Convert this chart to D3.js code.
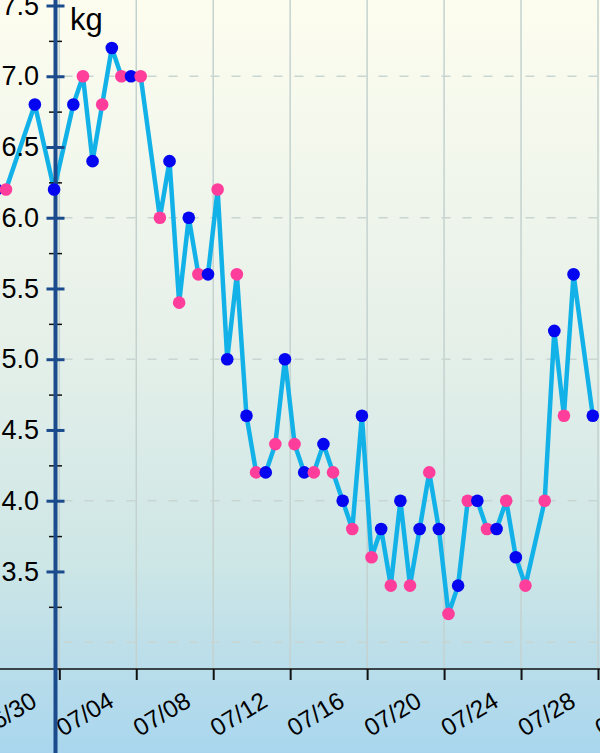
<!DOCTYPE html>
<html>
<head>
<meta charset="utf-8">
<script src="https://cdn.jsdelivr.net/npm/d3@7"></script>
<style>
  body { margin: 0; overflow: hidden; }
  text { font-family: "Liberation Sans", Arial, sans-serif; }
</style>
</head>
<body>
<div id="chart"></div>
<script>
// weigh-ins: date, session (am = pink, pm = blue), weight in kg
var dates = ["06/30", "07/01", "07/02", "07/03", "07/04", "07/05", "07/05", "07/06", "07/06", "07/07",
             "07/07", "07/08", "07/09", "07/09", "07/10", "07/10", "07/11", "07/11", "07/12", "07/12",
             "07/13", "07/13", "07/14", "07/14", "07/15", "07/15", "07/16", "07/16", "07/17", "07/17",
             "07/18", "07/18", "07/19", "07/19", "07/20", "07/20", "07/21", "07/21", "07/22", "07/22",
             "07/23", "07/23", "07/24", "07/24", "07/25", "07/25", "07/26", "07/26", "07/27", "07/27",
             "07/28", "07/29", "07/29", "07/30", "07/30", "07/31"];
var sessions = ["pm", "am", "pm", "pm", "pm", "am", "pm", "am", "pm", "am",
                "pm", "am", "am", "pm", "am", "pm", "am", "pm", "am", "pm",
                "am", "pm", "am", "pm", "am", "pm", "am", "pm", "am", "pm",
                "am", "pm", "am", "pm", "am", "pm", "am", "pm", "am", "pm",
                "am", "pm", "am", "pm", "am", "pm", "am", "pm", "am", "pm",
                "am", "am", "pm", "am", "pm", "pm"];
var weights = [6.2, 6.2, 6.8, 6.2, 6.8, 7.0, 6.4, 6.8, 7.2, 7.0,
               7.0, 7.0, 6.0, 6.4, 5.4, 6.0, 5.6, 5.6, 6.2, 5.0,
               5.6, 4.6, 4.2, 4.2, 4.4, 5.0, 4.4, 4.2, 4.2, 4.4,
               4.2, 4.0, 3.8, 4.6, 3.6, 3.8, 3.4, 4.0, 3.4, 3.8,
               4.2, 3.8, 3.2, 3.4, 4.0, 4.0, 3.8, 3.8, 4.0, 3.6,
               3.4, 4.0, 5.2, 4.6, 5.6, 4.6];

var tickDates = ["06/30", "07/04", "07/08", "07/12", "07/16", "07/20", "07/24", "07/28", "08/01"];
var majorTicks = [3.5, 4.0, 4.5, 5.0, 5.5, 6.0, 6.5, 7.0, 7.5];
var minorTicks = [3.25, 3.75, 4.25, 4.75, 5.25, 5.75, 6.25, 6.75, 7.25];
var gridValues = [3, 4, 5, 6, 7];

var width = 600, height = 753;
var axisY = 669;   // x axis position
var axisX = 55.5;  // y axis position

var parseDay = d3.timeParse("%Y/%m/%d %H:%M");
function toTime(md, s) {
    return parseDay("2014/" + md + (s == "am" ? " 05:30" : " 17:30"));
}

var data = dates.map(function(d, i) {
    return { t: toTime(d, sessions[i]), s: sessions[i], v: weights[i] };
});

var x = d3.scaleTime()
    .domain([parseDay("2014/07/04 00:00"), parseDay("2014/08/01 00:00")])
    .range([59.3, 598]);
var y = d3.scaleLinear()
    .domain([3, 7.5])
    .range([642.2, 5.5]);

var svg = d3.select("#chart").append("svg")
    .attr("width", width)
    .attr("height", height);

var grad = svg.append("defs").append("linearGradient")
    .attr("id", "bg")
    .attr("x1", 0).attr("y1", 0).attr("x2", 0).attr("y2", 1);
grad.append("stop").attr("offset", "0").attr("stop-color", "#fdfdef");
grad.append("stop").attr("offset", "0.45").attr("stop-color", "#e6f0e9");
grad.append("stop").attr("offset", "0.75").attr("stop-color", "#cde6e6");
grad.append("stop").attr("offset", "1").attr("stop-color", "#a9d6ee");

svg.append("rect")
    .attr("width", width)
    .attr("height", height)
    .attr("fill", "url(#bg)");

var tickTimes = tickDates.map(function(d) { return parseDay("2014/" + d + " 00:00"); });

// vertical grid lines
svg.append("g").selectAll("line")
    .data(tickTimes)
    .enter().append("line")
    .attr("x1", function(d) { return x(d); })
    .attr("x2", function(d) { return x(d); })
    .attr("y1", 0)
    .attr("y2", axisY)
    .style("stroke", "#c4d2cf")
    .style("stroke-width", 1.5);

// dashed horizontal grid lines
svg.append("g").selectAll("line")
    .data(gridValues)
    .enter().append("line")
    .attr("x1", axisX + 8)
    .attr("x2", width)
    .attr("y1", function(d) { return y(d); })
    .attr("y2", function(d) { return y(d); })
    .style("stroke", "#c8d5d1")
    .style("stroke-width", 1.5)
    .style("stroke-dasharray", "9,12");

// x axis
var xAxis = svg.append("g")
    .attr("transform", "translate(0," + axisY + ")")
    .call(d3.axisBottom(x).tickValues(tickTimes).tickSize(11).tickFormat(d3.timeFormat("%m/%d")));
xAxis.select(".domain").remove();
xAxis.append("line")
    .attr("x1", 0).attr("x2", width)
    .attr("y1", 0).attr("y2", 0)
    .style("stroke", "#111")
    .style("stroke-width", 1.5);
xAxis.selectAll(".tick line")
    .style("stroke", "#111")
    .style("stroke-width", 2);
xAxis.selectAll(".tick text")
    .attr("y", 0)
    .attr("dy", 0)
    .attr("transform", "translate(3,68) rotate(-31)")
    .style("text-anchor", "start")
    .style("font-size", "24.5px")
    .style("fill", "#000");

// line
var line = d3.line()
    .x(function(d) { return x(d.t); })
    .y(function(d) { return y(d.v); });

svg.append("path")
    .datum(data)
    .attr("d", line)
    .style("fill", "none")
    .style("stroke", "#12b2e8")
    .style("stroke-width", 4.5)
    .style("stroke-linejoin", "round");

// y axis
var yAxis = svg.append("g")
    .attr("transform", "translate(" + axisX + ",0)")
    .call(d3.axisLeft(y).tickValues(majorTicks).tickSize(0).tickPadding(16.5).tickFormat(d3.format(".1f")));
yAxis.select(".domain").remove();
yAxis.selectAll(".tick text")
    .style("font-size", "27px")
    .style("fill", "#000");
yAxis.selectAll(".tick line")
    .attr("x1", -9).attr("x2", 9)
    .style("stroke", "#1b4b8c")
    .style("stroke-width", 3);

var yMinor = svg.append("g")
    .attr("transform", "translate(" + axisX + ",0)")
    .call(d3.axisLeft(y).tickValues(minorTicks).tickSize(0).tickFormat(""));
yMinor.select(".domain").remove();
yMinor.selectAll(".tick line")
    .attr("x1", -6.5).attr("x2", 6.5)
    .style("stroke", "#111")
    .style("stroke-width", 1.5);

svg.append("line")
    .attr("x1", axisX).attr("x2", axisX)
    .attr("y1", 0).attr("y2", height)
    .style("stroke", "#1b4b8c")
    .style("stroke-width", 4);

// points
svg.append("g").selectAll("circle")
    .data(data)
    .enter().append("circle")
    .attr("cx", function(d) { return x(d.t); })
    .attr("cy", function(d) { return y(d.v); })
    .attr("r", 6.3)
    .style("fill", function(d) { return d.s == "am" ? "#ff3d9b" : "#0505f0"; });

svg.append("text")
    .attr("x", 70)
    .attr("y", 30)
    .style("font-size", "31px")
    .style("fill", "#000")
    .text("kg");
</script>
</body>
</html>
